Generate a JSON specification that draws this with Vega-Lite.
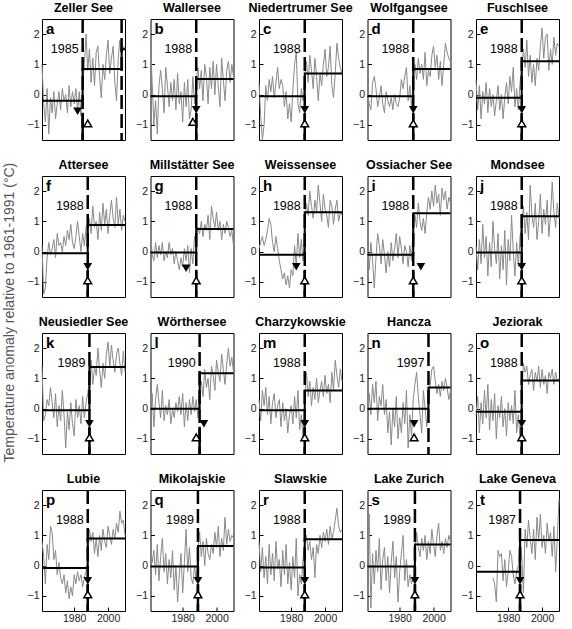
{
"$schema": "https://vega.github.io/schema/vega-lite/v6.json",
"background": "white",
"padding": {"left": 2, "top": 1, "right": 4, "bottom": 0},
"title": {"text": "Temperature anomaly relative to 1961-1991 (°C)", "orient": "left", "anchor": "middle", "fontSize": 14, "fontWeight": "normal", "font": "Liberation Sans", "color": "#555", "offset": 10},
"datasets": {
"lakes": [
{"id":"a","lake":"Zeller See"},{"id":"b","lake":"Wallersee"},{"id":"c","lake":"Niedertrumer See"},{"id":"d","lake":"Wolfgangsee"},{"id":"e","lake":"Fuschlsee"},
{"id":"f","lake":"Attersee"},{"id":"g","lake":"Millstätter See"},{"id":"h","lake":"Weissensee"},{"id":"i","lake":"Ossiacher See"},{"id":"j","lake":"Mondsee"},
{"id":"k","lake":"Neusiedler See"},{"id":"l","lake":"Wörthersee"},{"id":"m","lake":"Charzykowskie"},{"id":"n","lake":"Hancza"},{"id":"o","lake":"Jeziorak"},
{"id":"p","lake":"Lubie"},{"id":"q","lake":"Mikolajskie"},{"id":"r","lake":"Slawskie"},{"id":"s","lake":"Lake Zurich"},{"id":"t","lake":"Lake Geneva"}
],
"main": [
{"id":"a","kind":"let"},{"id":"b","kind":"let"},{"id":"c","kind":"let"},{"id":"d","kind":"let"},{"id":"e","kind":"let"},{"id":"f","kind":"let"},{"id":"g","kind":"let"},{"id":"h","kind":"let"},{"id":"i","kind":"let"},{"id":"j","kind":"let"},{"id":"k","kind":"let"},{"id":"l","kind":"let"},{"id":"m","kind":"let"},{"id":"n","kind":"let"},{"id":"o","kind":"let"},{"id":"p","kind":"let"},{"id":"q","kind":"let"},{"id":"r","kind":"let"},{"id":"s","kind":"let"},{"id":"t","kind":"let"},

{"id":"a","kind":"cp","year":1985,"label":"1985"},{"id":"a","kind":"cp","year":2008},
{"id":"b","kind":"cp","year":1988,"label":"1988"},{"id":"c","kind":"cp","year":1988,"label":"1988"},{"id":"d","kind":"cp","year":1988,"label":"1988"},{"id":"e","kind":"cp","year":1988,"label":"1988"},
{"id":"f","kind":"cp","year":1988,"label":"1988"},{"id":"g","kind":"cp","year":1988,"label":"1988"},{"id":"h","kind":"cp","year":1988,"label":"1988"},{"id":"i","kind":"cp","year":1988,"label":"1988"},{"id":"j","kind":"cp","year":1988,"label":"1988"},
{"id":"k","kind":"cp","year":1989,"label":"1989"},{"id":"l","kind":"cp","year":1990,"label":"1990"},{"id":"m","kind":"cp","year":1988,"label":"1988"},{"id":"n","kind":"cp","year":1997,"label":"1997"},{"id":"o","kind":"cp","year":1988,"label":"1988"},
{"id":"p","kind":"cp","year":1988,"label":"1988"},{"id":"q","kind":"cp","year":1989,"label":"1989"},{"id":"r","kind":"cp","year":1988,"label":"1988"},{"id":"s","kind":"cp","year":1989,"label":"1989"},{"id":"t","kind":"cp","year":1987,"label":"1987"},

{"id":"a","kind":"seg","year":1985,"value":-1.5,"value2":-0.6},{"id":"b","kind":"seg","year":1988,"value":-1.5,"value2":-0.6},{"id":"c","kind":"seg","year":1988,"value":-1.5,"value2":-0.6},{"id":"d","kind":"seg","year":1988,"value":-1.5,"value2":-0.6},{"id":"e","kind":"seg","year":1988,"value":-1.5,"value2":-0.6},
{"id":"f","kind":"seg","year":1988,"value":-1.5,"value2":-0.6},{"id":"g","kind":"seg","year":1988,"value":-1.5,"value2":-0.6},{"id":"h","kind":"seg","year":1988,"value":-1.5,"value2":-0.6},{"id":"i","kind":"seg","year":1988,"value":-1.5,"value2":-0.6},{"id":"j","kind":"seg","year":1988,"value":-1.5,"value2":-0.6},
{"id":"k","kind":"seg","year":1989,"value":-1.5,"value2":-0.6},{"id":"l","kind":"seg","year":1990,"value":-1.5,"value2":-0.6},{"id":"m","kind":"seg","year":1988,"value":-1.5,"value2":-0.6},{"id":"o","kind":"seg","year":1988,"value":-1.5,"value2":-0.6},
{"id":"p","kind":"seg","year":1988,"value":-1.5,"value2":-0.6},{"id":"q","kind":"seg","year":1989,"value":-1.5,"value2":-0.6},{"id":"r","kind":"seg","year":1988,"value":-1.5,"value2":-0.6},{"id":"s","kind":"seg","year":1989,"value":-1.5,"value2":-0.6},{"id":"t","kind":"seg","year":1987,"value":-1.5,"value2":-0.6},

{"id":"a","kind":"dn","year":1982,"value":-0.55},{"id":"a","kind":"up","year":1988,"value":-0.95},
{"id":"b","kind":"dn","year":1988,"value":-0.5},{"id":"b","kind":"up","year":1986,"value":-0.9},
{"id":"c","kind":"dn","year":1988,"value":-0.5},{"id":"c","kind":"up","year":1988,"value":-0.95},
{"id":"d","kind":"dn","year":1988,"value":-0.5},{"id":"d","kind":"up","year":1988,"value":-0.95},
{"id":"e","kind":"dn","year":1988,"value":-0.5},{"id":"e","kind":"up","year":1988,"value":-0.95},
{"id":"f","kind":"dn","year":1988,"value":-0.5},{"id":"f","kind":"up","year":1988,"value":-0.95},
{"id":"g","kind":"dn","year":1982,"value":-0.55},{"id":"g","kind":"up","year":1988,"value":-0.95},
{"id":"h","kind":"dn","year":1983,"value":-0.5},{"id":"h","kind":"up","year":1988,"value":-0.95},
{"id":"i","kind":"dn","year":1992.5,"value":-0.5},{"id":"i","kind":"up","year":1988,"value":-0.95},
{"id":"j","kind":"dn","year":1988,"value":-0.5},{"id":"j","kind":"up","year":1988,"value":-0.95},
{"id":"k","kind":"dn","year":1989,"value":-0.5},{"id":"k","kind":"up","year":1989,"value":-0.95},
{"id":"l","kind":"dn","year":1992.5,"value":-0.5},{"id":"l","kind":"up","year":1988,"value":-0.95},
{"id":"m","kind":"dn","year":1988,"value":-0.5},{"id":"m","kind":"up","year":1988,"value":-0.95},
{"id":"n","kind":"dn","year":1988.5,"value":-0.5},{"id":"n","kind":"up","year":1988.5,"value":-0.95},
{"id":"o","kind":"dn","year":1988,"value":-0.5},{"id":"o","kind":"up","year":1988,"value":-0.95},
{"id":"p","kind":"dn","year":1988,"value":-0.5},{"id":"p","kind":"up","year":1988,"value":-0.95},
{"id":"q","kind":"dn","year":1989,"value":-0.5},{"id":"q","kind":"up","year":1989,"value":-0.95},
{"id":"r","kind":"dn","year":1988,"value":-0.5},{"id":"r","kind":"up","year":1988,"value":-0.95},
{"id":"s","kind":"dn","year":1989,"value":-0.5},{"id":"s","kind":"up","year":1989,"value":-0.95},
{"id":"t","kind":"dn","year":1987,"value":-0.5},{"id":"t","kind":"up","year":1987,"value":-0.95},

{"id":"a","kind":"step","o":1,"year":1961,"value":-0.2},{"id":"a","kind":"step","o":2,"year":1985,"value":-0.2},{"id":"a","kind":"step","o":3,"year":1985,"value":0.85},{"id":"a","kind":"step","o":4,"year":2008,"value":0.85},{"id":"a","kind":"step","o":5,"year":2008,"value":1.5},{"id":"a","kind":"step","o":6,"year":2010,"value":1.5},
{"id":"b","kind":"step","o":1,"year":1961,"value":-0.05},{"id":"b","kind":"step","o":2,"year":1988,"value":-0.05},{"id":"b","kind":"step","o":3,"year":1988,"value":0.52},{"id":"b","kind":"step","o":4,"year":2010,"value":0.52},
{"id":"c","kind":"step","o":1,"year":1961,"value":-0.05},{"id":"c","kind":"step","o":2,"year":1988,"value":-0.05},{"id":"c","kind":"step","o":3,"year":1988,"value":0.7},{"id":"c","kind":"step","o":4,"year":2010,"value":0.7},
{"id":"d","kind":"step","o":1,"year":1961,"value":-0.05},{"id":"d","kind":"step","o":2,"year":1988,"value":-0.05},{"id":"d","kind":"step","o":3,"year":1988,"value":0.85},{"id":"d","kind":"step","o":4,"year":2010,"value":0.85},
{"id":"e","kind":"step","o":1,"year":1961,"value":-0.1},{"id":"e","kind":"step","o":2,"year":1988,"value":-0.1},{"id":"e","kind":"step","o":3,"year":1988,"value":1.1},{"id":"e","kind":"step","o":4,"year":2010,"value":1.1},
{"id":"f","kind":"step","o":1,"year":1961,"value":-0.05},{"id":"f","kind":"step","o":2,"year":1988,"value":-0.05},{"id":"f","kind":"step","o":3,"year":1988,"value":0.88},{"id":"f","kind":"step","o":4,"year":2010,"value":0.88},
{"id":"g","kind":"step","o":1,"year":1961,"value":-0.03},{"id":"g","kind":"step","o":2,"year":1988,"value":-0.03},{"id":"g","kind":"step","o":3,"year":1988,"value":0.75},{"id":"g","kind":"step","o":4,"year":2010,"value":0.75},
{"id":"h","kind":"step","o":1,"year":1961,"value":-0.1},{"id":"h","kind":"step","o":2,"year":1988,"value":-0.1},{"id":"h","kind":"step","o":3,"year":1988,"value":1.3},{"id":"h","kind":"step","o":4,"year":2010,"value":1.3},
{"id":"i","kind":"step","o":1,"year":1961,"value":-0.1},{"id":"i","kind":"step","o":2,"year":1988,"value":-0.1},{"id":"i","kind":"step","o":3,"year":1988,"value":1.27},{"id":"i","kind":"step","o":4,"year":2010,"value":1.27},
{"id":"j","kind":"step","o":1,"year":1961,"value":-0.03},{"id":"j","kind":"step","o":2,"year":1988,"value":-0.03},{"id":"j","kind":"step","o":3,"year":1988,"value":1.17},{"id":"j","kind":"step","o":4,"year":2010,"value":1.17},
{"id":"k","kind":"step","o":1,"year":1961,"value":-0.05},{"id":"k","kind":"step","o":2,"year":1989,"value":-0.05},{"id":"k","kind":"step","o":3,"year":1989,"value":1.38},{"id":"k","kind":"step","o":4,"year":2010,"value":1.38},
{"id":"l","kind":"step","o":1,"year":1961,"value":0.0},{"id":"l","kind":"step","o":2,"year":1990,"value":0.0},{"id":"l","kind":"step","o":3,"year":1990,"value":1.17},{"id":"l","kind":"step","o":4,"year":2010,"value":1.17},
{"id":"m","kind":"step","o":1,"year":1961,"value":-0.05},{"id":"m","kind":"step","o":2,"year":1988,"value":-0.05},{"id":"m","kind":"step","o":3,"year":1988,"value":0.6},{"id":"m","kind":"step","o":4,"year":2010,"value":0.6},
{"id":"n","kind":"step","o":1,"year":1961,"value":0.0},{"id":"n","kind":"step","o":2,"year":1997,"value":0.0},{"id":"n","kind":"step","o":3,"year":1997,"value":0.7},{"id":"n","kind":"step","o":4,"year":2010,"value":0.7},
{"id":"o","kind":"step","o":1,"year":1961,"value":-0.1},{"id":"o","kind":"step","o":2,"year":1988,"value":-0.1},{"id":"o","kind":"step","o":3,"year":1988,"value":0.93},{"id":"o","kind":"step","o":4,"year":2010,"value":0.93},
{"id":"p","kind":"step","o":1,"year":1961,"value":-0.08},{"id":"p","kind":"step","o":2,"year":1988,"value":-0.08},{"id":"p","kind":"step","o":3,"year":1988,"value":0.9},{"id":"p","kind":"step","o":4,"year":2010,"value":0.9},
{"id":"q","kind":"step","o":1,"year":1961,"value":-0.03},{"id":"q","kind":"step","o":2,"year":1989,"value":-0.03},{"id":"q","kind":"step","o":3,"year":1989,"value":0.65},{"id":"q","kind":"step","o":4,"year":2010,"value":0.65},
{"id":"r","kind":"step","o":1,"year":1961,"value":-0.06},{"id":"r","kind":"step","o":2,"year":1988,"value":-0.06},{"id":"r","kind":"step","o":3,"year":1988,"value":0.87},{"id":"r","kind":"step","o":4,"year":2010,"value":0.87},
{"id":"s","kind":"step","o":1,"year":1961,"value":-0.03},{"id":"s","kind":"step","o":2,"year":1989,"value":-0.03},{"id":"s","kind":"step","o":3,"year":1989,"value":0.7},{"id":"s","kind":"step","o":4,"year":2010,"value":0.7},
{"id":"t","kind":"step","o":1,"year":1961,"value":-0.2},{"id":"t","kind":"step","o":2,"year":1987,"value":-0.2},{"id":"t","kind":"step","o":3,"year":1987,"value":0.85},{"id":"t","kind":"step","o":4,"year":2010,"value":0.85},

{"id":"a","year":1961,"value":1.0},{"id":"a","year":1962,"value":-0.3},{"id":"a","year":1963,"value":-0.9},{"id":"a","year":1964,"value":0.2},{"id":"a","year":1965,"value":-1.3},{"id":"a","year":1966,"value":-0.1},{"id":"a","year":1967,"value":-0.6},{"id":"a","year":1968,"value":0.1},{"id":"a","year":1969,"value":-0.8},{"id":"a","year":1970,"value":-0.3},
{"id":"a","year":1971,"value":0.1},{"id":"a","year":1972,"value":-0.5},{"id":"a","year":1973,"value":0.2},{"id":"a","year":1974,"value":-0.2},{"id":"a","year":1975,"value":0.0},{"id":"a","year":1976,"value":-0.6},{"id":"a","year":1977,"value":0.3},{"id":"a","year":1978,"value":-0.4},{"id":"a","year":1979,"value":0.1},{"id":"a","year":1980,"value":-0.3},
{"id":"a","year":1981,"value":0.2},{"id":"a","year":1982,"value":-0.5},{"id":"a","year":1983,"value":0.1},{"id":"a","year":1984,"value":-0.7},{"id":"a","year":1985,"value":0.3},{"id":"a","year":1986,"value":1.0},{"id":"a","year":1987,"value":2.0},{"id":"a","year":1988,"value":0.8},{"id":"a","year":1989,"value":1.5},{"id":"a","year":1990,"value":0.4},
{"id":"a","year":1991,"value":1.2},{"id":"a","year":1992,"value":0.3},{"id":"a","year":1993,"value":1.4},{"id":"a","year":1994,"value":1.6},{"id":"a","year":1995,"value":0.6},{"id":"a","year":1996,"value":-0.1},{"id":"a","year":1997,"value":1.0},{"id":"a","year":1998,"value":0.5},{"id":"a","year":1999,"value":1.3},{"id":"a","year":2000,"value":1.8},
{"id":"a","year":2001,"value":0.7},{"id":"a","year":2002,"value":1.2},{"id":"a","year":2003,"value":1.6},{"id":"a","year":2004,"value":0.4},{"id":"a","year":2005,"value":-0.2},{"id":"a","year":2006,"value":1.2},{"id":"a","year":2007,"value":1.8},{"id":"a","year":2008,"value":1.3},{"id":"a","year":2009,"value":1.6},{"id":"a","year":2010,"value":1.5},

{"id":"b","year":1961,"value":1.6},{"id":"b","year":1962,"value":0.4},{"id":"b","year":1963,"value":-1.0},{"id":"b","year":1964,"value":-0.2},{"id":"b","year":1965,"value":-1.3},{"id":"b","year":1966,"value":0.3},{"id":"b","year":1967,"value":0.8},{"id":"b","year":1968,"value":0.2},{"id":"b","year":1969,"value":-0.6},{"id":"b","year":1970,"value":0.9},
{"id":"b","year":1971,"value":0.3},{"id":"b","year":1972,"value":-0.4},{"id":"b","year":1973,"value":0.4},{"id":"b","year":1974,"value":-0.2},{"id":"b","year":1975,"value":0.5},{"id":"b","year":1976,"value":-0.5},{"id":"b","year":1977,"value":0.7},{"id":"b","year":1978,"value":-0.3},{"id":"b","year":1979,"value":0.1},{"id":"b","year":1980,"value":-0.9},
{"id":"b","year":1981,"value":0.4},{"id":"b","year":1982,"value":-0.4},{"id":"b","year":1983,"value":0.5},{"id":"b","year":1984,"value":-0.8},{"id":"b","year":1985,"value":-0.5},{"id":"b","year":1986,"value":0.6},{"id":"b","year":1987,"value":-0.3},{"id":"b","year":1988,"value":0.4},{"id":"b","year":1989,"value":0.9},{"id":"b","year":1990,"value":0.2},
{"id":"b","year":1991,"value":0.8},{"id":"b","year":1992,"value":-0.2},{"id":"b","year":1993,"value":1.0},{"id":"b","year":1994,"value":0.6},{"id":"b","year":1995,"value":-0.3},{"id":"b","year":1996,"value":0.9},{"id":"b","year":1997,"value":0.2},{"id":"b","year":1998,"value":1.1},{"id":"b","year":1999,"value":0.0},{"id":"b","year":2000,"value":1.0},
{"id":"b","year":2001,"value":0.3},{"id":"b","year":2002,"value":-0.4},{"id":"b","year":2003,"value":1.2},{"id":"b","year":2004,"value":0.5},{"id":"b","year":2005,"value":-0.2},{"id":"b","year":2006,"value":0.8},{"id":"b","year":2007,"value":1.1},{"id":"b","year":2008,"value":0.4},{"id":"b","year":2009,"value":1.0},{"id":"b","year":2010,"value":0.6},

{"id":"c","year":1961,"value":0.4},{"id":"c","year":1962,"value":-0.7},{"id":"c","year":1963,"value":-1.5},{"id":"c","year":1964,"value":-1.0},{"id":"c","year":1965,"value":0.3},{"id":"c","year":1966,"value":-0.2},{"id":"c","year":1967,"value":0.5},{"id":"c","year":1968,"value":0.1},{"id":"c","year":1969,"value":0.6},{"id":"c","year":1970,"value":-0.1},
{"id":"c","year":1971,"value":0.4},{"id":"c","year":1972,"value":0.9},{"id":"c","year":1973,"value":0.2},{"id":"c","year":1974,"value":0.5},{"id":"c","year":1975,"value":0.3},{"id":"c","year":1976,"value":-0.4},{"id":"c","year":1977,"value":0.1},{"id":"c","year":1978,"value":-0.8},{"id":"c","year":1979,"value":-0.3},{"id":"c","year":1980,"value":-0.9},
{"id":"c","year":1981,"value":0.2},{"id":"c","year":1982,"value":1.0},{"id":"c","year":1983,"value":1.4},{"id":"c","year":1984,"value":-0.3},{"id":"c","year":1985,"value":-0.6},{"id":"c","year":1986,"value":0.2},{"id":"c","year":1987,"value":-0.2},{"id":"c","year":1988,"value":0.5},{"id":"c","year":1989,"value":1.1},{"id":"c","year":1990,"value":0.4},
{"id":"c","year":1991,"value":1.3},{"id":"c","year":1992,"value":0.8},{"id":"c","year":1993,"value":0.2},{"id":"c","year":1994,"value":1.2},{"id":"c","year":1995,"value":0.6},{"id":"c","year":1996,"value":-0.2},{"id":"c","year":1997,"value":0.7},{"id":"c","year":1998,"value":0.3},{"id":"c","year":1999,"value":1.0},{"id":"c","year":2000,"value":1.5},
{"id":"c","year":2001,"value":0.6},{"id":"c","year":2002,"value":0.9},{"id":"c","year":2003,"value":1.6},{"id":"c","year":2004,"value":0.3},{"id":"c","year":2005,"value":-0.1},{"id":"c","year":2006,"value":0.7},{"id":"c","year":2007,"value":1.7},{"id":"c","year":2008,"value":1.2},{"id":"c","year":2009,"value":0.9},{"id":"c","year":2010,"value":0.7},

{"id":"d","year":1961,"value":0.1},{"id":"d","year":1962,"value":-0.3},{"id":"d","year":1963,"value":-0.5},{"id":"d","year":1964,"value":0.4},{"id":"d","year":1965,"value":0.6},{"id":"d","year":1966,"value":0.2},{"id":"d","year":1967,"value":-0.4},{"id":"d","year":1968,"value":-0.1},{"id":"d","year":1969,"value":0.3},{"id":"d","year":1970,"value":-0.3},
{"id":"d","year":1971,"value":-0.6},{"id":"d","year":1972,"value":0.1},{"id":"d","year":1973,"value":-0.2},{"id":"d","year":1974,"value":-0.4},{"id":"d","year":1975,"value":-0.1},{"id":"d","year":1976,"value":-0.5},{"id":"d","year":1977,"value":0.0},{"id":"d","year":1978,"value":-0.3},{"id":"d","year":1979,"value":-0.4},{"id":"d","year":1980,"value":-0.1},
{"id":"d","year":1981,"value":0.5},{"id":"d","year":1982,"value":0.2},{"id":"d","year":1983,"value":0.6},{"id":"d","year":1984,"value":0.9},{"id":"d","year":1985,"value":-0.2},{"id":"d","year":1986,"value":0.3},{"id":"d","year":1987,"value":-0.4},{"id":"d","year":1988,"value":0.4},{"id":"d","year":1989,"value":1.0},{"id":"d","year":1990,"value":0.5},
{"id":"d","year":1991,"value":1.2},{"id":"d","year":1992,"value":0.7},{"id":"d","year":1993,"value":1.0},{"id":"d","year":1994,"value":0.5},{"id":"d","year":1995,"value":1.4},{"id":"d","year":1996,"value":0.3},{"id":"d","year":1997,"value":0.8},{"id":"d","year":1998,"value":0.6},{"id":"d","year":1999,"value":1.3},{"id":"d","year":2000,"value":1.6},
{"id":"d","year":2001,"value":0.9},{"id":"d","year":2002,"value":1.3},{"id":"d","year":2003,"value":0.5},{"id":"d","year":2004,"value":1.1},{"id":"d","year":2005,"value":0.3},{"id":"d","year":2006,"value":1.0},{"id":"d","year":2007,"value":1.7},{"id":"d","year":2008,"value":1.4},{"id":"d","year":2009,"value":1.2},{"id":"d","year":2010,"value":1.1},

{"id":"e","year":1961,"value":0.5},{"id":"e","year":1962,"value":-0.5},{"id":"e","year":1963,"value":0.3},{"id":"e","year":1964,"value":-0.8},{"id":"e","year":1965,"value":0.1},{"id":"e","year":1966,"value":-0.3},{"id":"e","year":1967,"value":0.4},{"id":"e","year":1968,"value":-0.6},{"id":"e","year":1969,"value":0.2},{"id":"e","year":1970,"value":-0.4},
{"id":"e","year":1971,"value":0.0},{"id":"e","year":1972,"value":-0.7},{"id":"e","year":1973,"value":-0.2},{"id":"e","year":1974,"value":0.3},{"id":"e","year":1975,"value":-0.5},{"id":"e","year":1976,"value":0.0},{"id":"e","year":1977,"value":-0.8},{"id":"e","year":1978,"value":-0.1},{"id":"e","year":1979,"value":0.4},{"id":"e","year":1980,"value":-0.3},
{"id":"e","year":1981,"value":0.6},{"id":"e","year":1982,"value":0.1},{"id":"e","year":1983,"value":0.9},{"id":"e","year":1984,"value":-0.4},{"id":"e","year":1985,"value":0.2},{"id":"e","year":1986,"value":-0.5},{"id":"e","year":1987,"value":0.4},{"id":"e","year":1988,"value":0.8},{"id":"e","year":1989,"value":1.5},{"id":"e","year":1990,"value":0.9},
{"id":"e","year":1991,"value":1.8},{"id":"e","year":1992,"value":0.6},{"id":"e","year":1993,"value":1.3},{"id":"e","year":1994,"value":0.4},{"id":"e","year":1995,"value":1.0},{"id":"e","year":1996,"value":0.3},{"id":"e","year":1997,"value":1.2},{"id":"e","year":1998,"value":0.8},{"id":"e","year":1999,"value":1.6},{"id":"e","year":2000,"value":2.2},
{"id":"e","year":2001,"value":1.2},{"id":"e","year":2002,"value":1.9},{"id":"e","year":2003,"value":2.0},{"id":"e","year":2004,"value":0.8},{"id":"e","year":2005,"value":1.5},{"id":"e","year":2006,"value":1.0},{"id":"e","year":2007,"value":1.9},{"id":"e","year":2008,"value":1.3},{"id":"e","year":2009,"value":1.7},{"id":"e","year":2010,"value":1.6},

{"id":"f","year":1961,"value":0.2},{"id":"f","year":1962,"value":-1.4},{"id":"f","year":1963,"value":-1.2},{"id":"f","year":1964,"value":-0.2},{"id":"f","year":1965,"value":0.3},{"id":"f","year":1966,"value":-0.1},{"id":"f","year":1967,"value":0.1},{"id":"f","year":1968,"value":0.4},{"id":"f","year":1969,"value":-0.2},{"id":"f","year":1970,"value":0.6},
{"id":"f","year":1971,"value":0.2},{"id":"f","year":1972,"value":0.3},{"id":"f","year":1973,"value":0.0},{"id":"f","year":1974,"value":0.5},{"id":"f","year":1975,"value":0.2},{"id":"f","year":1976,"value":0.7},{"id":"f","year":1977,"value":0.4},{"id":"f","year":1978,"value":0.9},{"id":"f","year":1979,"value":0.3},{"id":"f","year":1980,"value":0.1},
{"id":"f","year":1981,"value":0.5},{"id":"f","year":1982,"value":1.0},{"id":"f","year":1983,"value":0.5},{"id":"f","year":1984,"value":0.0},{"id":"f","year":1985,"value":0.6},{"id":"f","year":1986,"value":0.2},{"id":"f","year":1987,"value":0.8},{"id":"f","year":1988,"value":0.5},{"id":"f","year":1989,"value":1.1},{"id":"f","year":1990,"value":0.6},
{"id":"f","year":1991,"value":1.5},{"id":"f","year":1992,"value":0.8},{"id":"f","year":1993,"value":1.0},{"id":"f","year":1994,"value":0.4},{"id":"f","year":1995,"value":1.3},{"id":"f","year":1996,"value":0.7},{"id":"f","year":1997,"value":1.6},{"id":"f","year":1998,"value":0.9},{"id":"f","year":1999,"value":1.4},{"id":"f","year":2000,"value":0.6},
{"id":"f","year":2001,"value":1.2},{"id":"f","year":2002,"value":1.7},{"id":"f","year":2003,"value":1.1},{"id":"f","year":2004,"value":0.8},{"id":"f","year":2005,"value":1.8},{"id":"f","year":2006,"value":0.9},{"id":"f","year":2007,"value":1.4},{"id":"f","year":2008,"value":0.7},{"id":"f","year":2009,"value":1.2},{"id":"f","year":2010,"value":1.0},

{"id":"g","year":1961,"value":0.7},{"id":"g","year":1962,"value":-0.1},{"id":"g","year":1963,"value":-0.3},{"id":"g","year":1964,"value":0.3},{"id":"g","year":1965,"value":-0.2},{"id":"g","year":1966,"value":0.2},{"id":"g","year":1967,"value":-0.1},{"id":"g","year":1968,"value":0.3},{"id":"g","year":1969,"value":-0.3},{"id":"g","year":1970,"value":0.0},
{"id":"g","year":1971,"value":-0.2},{"id":"g","year":1972,"value":0.3},{"id":"g","year":1973,"value":-0.1},{"id":"g","year":1974,"value":0.1},{"id":"g","year":1975,"value":-0.4},{"id":"g","year":1976,"value":0.0},{"id":"g","year":1977,"value":-0.3},{"id":"g","year":1978,"value":-0.6},{"id":"g","year":1979,"value":-0.2},{"id":"g","year":1980,"value":-0.5},
{"id":"g","year":1981,"value":0.1},{"id":"g","year":1982,"value":-0.3},{"id":"g","year":1983,"value":0.2},{"id":"g","year":1984,"value":-0.7},{"id":"g","year":1985,"value":0.1},{"id":"g","year":1986,"value":-0.4},{"id":"g","year":1987,"value":0.5},{"id":"g","year":1988,"value":0.4},{"id":"g","year":1989,"value":0.8},{"id":"g","year":1990,"value":0.6},
{"id":"g","year":1991,"value":1.0},{"id":"g","year":1992,"value":0.5},{"id":"g","year":1993,"value":0.9},{"id":"g","year":1994,"value":0.7},{"id":"g","year":1995,"value":1.2},{"id":"g","year":1996,"value":0.4},{"id":"g","year":1997,"value":1.5},{"id":"g","year":1998,"value":1.1},{"id":"g","year":1999,"value":0.8},{"id":"g","year":2000,"value":1.3},
{"id":"g","year":2001,"value":0.7},{"id":"g","year":2002,"value":1.0},{"id":"g","year":2003,"value":0.4},{"id":"g","year":2004,"value":0.9},{"id":"g","year":2005,"value":0.6},{"id":"g","year":2006,"value":1.0},{"id":"g","year":2007,"value":0.8},{"id":"g","year":2008,"value":0.5},{"id":"g","year":2009,"value":0.7},{"id":"g","year":2010,"value":0.2},

{"id":"h","year":1961,"value":0.1},{"id":"h","year":1962,"value":0.3},{"id":"h","year":1963,"value":0.5},{"id":"h","year":1964,"value":0.2},{"id":"h","year":1965,"value":0.4},{"id":"h","year":1966,"value":0.7},{"id":"h","year":1967,"value":1.1},{"id":"h","year":1968,"value":0.9},{"id":"h","year":1969,"value":0.3},{"id":"h","year":1970,"value":0.0},
{"id":"h","year":1971,"value":0.5},{"id":"h","year":1972,"value":0.1},{"id":"h","year":1973,"value":-0.3},{"id":"h","year":1974,"value":-0.6},{"id":"h","year":1975,"value":-0.9},{"id":"h","year":1976,"value":-0.7},{"id":"h","year":1977,"value":-1.1},{"id":"h","year":1978,"value":-0.8},{"id":"h","year":1979,"value":-1.2},{"id":"h","year":1980,"value":-0.6},
{"id":"h","year":1981,"value":-0.8},{"id":"h","year":1982,"value":0.2},{"id":"h","year":1983,"value":-0.5},{"id":"h","year":1984,"value":0.6},{"id":"h","year":1985,"value":-0.2},{"id":"h","year":1986,"value":0.4},{"id":"h","year":1987,"value":-0.3},{"id":"h","year":1988,"value":0.8},{"id":"h","year":1989,"value":1.6},{"id":"h","year":1990,"value":1.2},
{"id":"h","year":1991,"value":2.0},{"id":"h","year":1992,"value":1.5},{"id":"h","year":1993,"value":1.1},{"id":"h","year":1994,"value":1.7},{"id":"h","year":1995,"value":1.3},{"id":"h","year":1996,"value":2.2},{"id":"h","year":1997,"value":1.6},{"id":"h","year":1998,"value":1.0},{"id":"h","year":1999,"value":1.9},{"id":"h","year":2000,"value":1.4},
{"id":"h","year":2001,"value":1.2},{"id":"h","year":2002,"value":0.8},{"id":"h","year":2003,"value":1.7},{"id":"h","year":2004,"value":1.5},{"id":"h","year":2005,"value":0.9},{"id":"h","year":2006,"value":1.4},{"id":"h","year":2007,"value":1.7},{"id":"h","year":2008,"value":1.0},{"id":"h","year":2009,"value":1.3},{"id":"h","year":2010,"value":1.2},

{"id":"i","year":1961,"value":-0.1},{"id":"i","year":1962,"value":-0.6},{"id":"i","year":1963,"value":0.3},{"id":"i","year":1964,"value":-0.3},{"id":"i","year":1965,"value":-1.2},{"id":"i","year":1966,"value":-0.2},{"id":"i","year":1967,"value":0.6},{"id":"i","year":1968,"value":0.2},{"id":"i","year":1969,"value":-0.4},{"id":"i","year":1970,"value":0.4},
{"id":"i","year":1971,"value":-0.1},{"id":"i","year":1972,"value":-0.7},{"id":"i","year":1973,"value":0.0},{"id":"i","year":1974,"value":-0.5},{"id":"i","year":1975,"value":0.3},{"id":"i","year":1976,"value":-0.3},{"id":"i","year":1977,"value":0.1},{"id":"i","year":1978,"value":0.6},{"id":"i","year":1979,"value":-0.2},{"id":"i","year":1980,"value":0.5},
{"id":"i","year":1981,"value":0.1},{"id":"i","year":1982,"value":-0.4},{"id":"i","year":1983,"value":0.2},{"id":"i","year":1984,"value":0.0},{"id":"i","year":1985,"value":-0.5},{"id":"i","year":1986,"value":0.2},{"id":"i","year":1987,"value":-0.3},{"id":"i","year":1988,"value":0.9},{"id":"i","year":1989,"value":1.2},{"id":"i","year":1990,"value":0.8},
{"id":"i","year":1991,"value":1.6},{"id":"i","year":1992,"value":1.0},{"id":"i","year":1993,"value":0.7},{"id":"i","year":1994,"value":1.1},{"id":"i","year":1995,"value":0.6},{"id":"i","year":1996,"value":1.3},{"id":"i","year":1997,"value":1.8},{"id":"i","year":1998,"value":1.4},{"id":"i","year":1999,"value":2.0},{"id":"i","year":2000,"value":1.5},
{"id":"i","year":2001,"value":2.2},{"id":"i","year":2002,"value":1.6},{"id":"i","year":2003,"value":1.9},{"id":"i","year":2004,"value":1.2},{"id":"i","year":2005,"value":2.1},{"id":"i","year":2006,"value":1.7},{"id":"i","year":2007,"value":2.0},{"id":"i","year":2008,"value":1.4},{"id":"i","year":2009,"value":1.8},{"id":"i","year":2010,"value":1.6},

{"id":"j","year":1961,"value":0.2},{"id":"j","year":1962,"value":-0.6},{"id":"j","year":1963,"value":0.4},{"id":"j","year":1964,"value":-0.4},{"id":"j","year":1965,"value":0.9},{"id":"j","year":1966,"value":-0.2},{"id":"j","year":1967,"value":0.5},{"id":"j","year":1968,"value":-0.8},{"id":"j","year":1969,"value":0.3},{"id":"j","year":1970,"value":-0.5},
{"id":"j","year":1971,"value":1.0},{"id":"j","year":1972,"value":0.1},{"id":"j","year":1973,"value":-0.4},{"id":"j","year":1974,"value":0.6},{"id":"j","year":1975,"value":-0.9},{"id":"j","year":1976,"value":0.2},{"id":"j","year":1977,"value":-0.6},{"id":"j","year":1978,"value":0.7},{"id":"j","year":1979,"value":-1.1},{"id":"j","year":1980,"value":0.4},
{"id":"j","year":1981,"value":-0.3},{"id":"j","year":1982,"value":1.2},{"id":"j","year":1983,"value":0.0},{"id":"j","year":1984,"value":-0.8},{"id":"j","year":1985,"value":0.3},{"id":"j","year":1986,"value":-0.5},{"id":"j","year":1987,"value":0.5},{"id":"j","year":1988,"value":0.9},{"id":"j","year":1989,"value":1.5},{"id":"j","year":1990,"value":0.6},
{"id":"j","year":1991,"value":1.3},{"id":"j","year":1992,"value":0.4},{"id":"j","year":1993,"value":2.2},{"id":"j","year":1994,"value":1.2},{"id":"j","year":1995,"value":0.8},{"id":"j","year":1996,"value":1.6},{"id":"j","year":1997,"value":0.4},{"id":"j","year":1998,"value":1.0},{"id":"j","year":1999,"value":1.9},{"id":"j","year":2000,"value":0.6},
{"id":"j","year":2001,"value":1.4},{"id":"j","year":2002,"value":0.9},{"id":"j","year":2003,"value":1.7},{"id":"j","year":2004,"value":0.5},{"id":"j","year":2005,"value":1.2},{"id":"j","year":2006,"value":2.3},{"id":"j","year":2007,"value":1.3},{"id":"j","year":2008,"value":0.8},{"id":"j","year":2009,"value":1.6},{"id":"j","year":2010,"value":1.1},

{"id":"k","year":1961,"value":1.4},{"id":"k","year":1962,"value":-0.4},{"id":"k","year":1963,"value":-0.2},{"id":"k","year":1964,"value":0.3},{"id":"k","year":1965,"value":0.1},{"id":"k","year":1966,"value":0.7},{"id":"k","year":1967,"value":0.2},{"id":"k","year":1968,"value":-0.3},{"id":"k","year":1969,"value":0.5},{"id":"k","year":1970,"value":-0.6},
{"id":"k","year":1971,"value":0.1},{"id":"k","year":1972,"value":-0.4},{"id":"k","year":1973,"value":0.6},{"id":"k","year":1974,"value":-0.2},{"id":"k","year":1975,"value":-1.3},{"id":"k","year":1976,"value":-0.1},{"id":"k","year":1977,"value":-0.7},{"id":"k","year":1978,"value":0.2},{"id":"k","year":1979,"value":-0.5},{"id":"k","year":1980,"value":-0.9},
{"id":"k","year":1981,"value":0.3},{"id":"k","year":1982,"value":-0.3},{"id":"k","year":1983,"value":0.1},{"id":"k","year":1984,"value":-0.5},{"id":"k","year":1985,"value":0.4},{"id":"k","year":1986,"value":-0.3},{"id":"k","year":1987,"value":0.2},{"id":"k","year":1988,"value":0.5},{"id":"k","year":1989,"value":0.9},{"id":"k","year":1990,"value":1.6},
{"id":"k","year":1991,"value":0.8},{"id":"k","year":1992,"value":1.4},{"id":"k","year":1993,"value":1.1},{"id":"k","year":1994,"value":2.0},{"id":"k","year":1995,"value":1.3},{"id":"k","year":1996,"value":0.7},{"id":"k","year":1997,"value":1.5},{"id":"k","year":1998,"value":1.0},{"id":"k","year":1999,"value":1.8},{"id":"k","year":2000,"value":2.2},
{"id":"k","year":2001,"value":1.4},{"id":"k","year":2002,"value":2.1},{"id":"k","year":2003,"value":1.6},{"id":"k","year":2004,"value":1.2},{"id":"k","year":2005,"value":1.8},{"id":"k","year":2006,"value":2.0},{"id":"k","year":2007,"value":1.5},{"id":"k","year":2008,"value":1.1},{"id":"k","year":2009,"value":1.9},{"id":"k","year":2010,"value":1.2},

{"id":"l","year":1961,"value":0.1},{"id":"l","year":1962,"value":0.5},{"id":"l","year":1963,"value":-0.6},{"id":"l","year":1964,"value":0.3},{"id":"l","year":1965,"value":0.8},{"id":"l","year":1966,"value":0.2},{"id":"l","year":1967,"value":-0.3},{"id":"l","year":1968,"value":0.6},{"id":"l","year":1969,"value":-0.4},{"id":"l","year":1970,"value":0.1},
{"id":"l","year":1971,"value":-0.2},{"id":"l","year":1972,"value":0.3},{"id":"l","year":1973,"value":-0.5},{"id":"l","year":1974,"value":0.0},{"id":"l","year":1975,"value":-0.3},{"id":"l","year":1976,"value":0.2},{"id":"l","year":1977,"value":-0.1},{"id":"l","year":1978,"value":0.4},{"id":"l","year":1979,"value":-0.2},{"id":"l","year":1980,"value":0.5},
{"id":"l","year":1981,"value":-0.6},{"id":"l","year":1982,"value":0.2},{"id":"l","year":1983,"value":-0.4},{"id":"l","year":1984,"value":0.3},{"id":"l","year":1985,"value":-0.2},{"id":"l","year":1986,"value":0.4},{"id":"l","year":1987,"value":-0.1},{"id":"l","year":1988,"value":0.3},{"id":"l","year":1989,"value":-0.3},{"id":"l","year":1990,"value":0.5},
{"id":"l","year":1991,"value":0.9},{"id":"l","year":1992,"value":0.4},{"id":"l","year":1993,"value":1.3},{"id":"l","year":1994,"value":0.7},{"id":"l","year":1995,"value":1.0},{"id":"l","year":1996,"value":0.3},{"id":"l","year":1997,"value":1.4},{"id":"l","year":1998,"value":1.1},{"id":"l","year":1999,"value":0.6},{"id":"l","year":2000,"value":1.6},
{"id":"l","year":2001,"value":1.2},{"id":"l","year":2002,"value":0.9},{"id":"l","year":2003,"value":1.8},{"id":"l","year":2004,"value":1.3},{"id":"l","year":2005,"value":0.8},{"id":"l","year":2006,"value":1.5},{"id":"l","year":2007,"value":2.0},{"id":"l","year":2008,"value":1.4},{"id":"l","year":2009,"value":1.7},{"id":"l","year":2010,"value":1.2},

{"id":"m","year":1961,"value":0.3},{"id":"m","year":1962,"value":-0.4},{"id":"m","year":1963,"value":0.6},{"id":"m","year":1964,"value":0.1},{"id":"m","year":1965,"value":0.7},{"id":"m","year":1966,"value":-0.2},{"id":"m","year":1967,"value":0.4},{"id":"m","year":1968,"value":-0.5},{"id":"m","year":1969,"value":0.2},{"id":"m","year":1970,"value":0.5},
{"id":"m","year":1971,"value":-0.3},{"id":"m","year":1972,"value":0.1},{"id":"m","year":1973,"value":0.3},{"id":"m","year":1974,"value":-0.6},{"id":"m","year":1975,"value":0.2},{"id":"m","year":1976,"value":-0.4},{"id":"m","year":1977,"value":0.0},{"id":"m","year":1978,"value":-0.8},{"id":"m","year":1979,"value":-0.2},{"id":"m","year":1980,"value":0.1},
{"id":"m","year":1981,"value":-0.5},{"id":"m","year":1982,"value":0.4},{"id":"m","year":1983,"value":-0.3},{"id":"m","year":1984,"value":0.6},{"id":"m","year":1985,"value":-0.7},{"id":"m","year":1986,"value":-0.2},{"id":"m","year":1987,"value":-1.0},{"id":"m","year":1988,"value":0.2},{"id":"m","year":1989,"value":1.2},{"id":"m","year":1990,"value":0.4},
{"id":"m","year":1991,"value":0.9},{"id":"m","year":1992,"value":0.1},{"id":"m","year":1993,"value":0.7},{"id":"m","year":1994,"value":0.3},{"id":"m","year":1995,"value":1.0},{"id":"m","year":1996,"value":0.2},{"id":"m","year":1997,"value":0.6},{"id":"m","year":1998,"value":0.9},{"id":"m","year":1999,"value":0.4},{"id":"m","year":2000,"value":1.1},
{"id":"m","year":2001,"value":0.5},{"id":"m","year":2002,"value":0.8},{"id":"m","year":2003,"value":0.2},{"id":"m","year":2004,"value":1.2},{"id":"m","year":2005,"value":0.6},{"id":"m","year":2006,"value":1.6},{"id":"m","year":2007,"value":1.1},{"id":"m","year":2008,"value":0.7},{"id":"m","year":2009,"value":1.3},{"id":"m","year":2010,"value":0.9},

{"id":"n","year":1961,"value":-0.3},{"id":"n","year":1962,"value":0.5},{"id":"n","year":1963,"value":-0.2},{"id":"n","year":1964,"value":0.8},{"id":"n","year":1965,"value":0.2},{"id":"n","year":1966,"value":0.9},{"id":"n","year":1967,"value":-0.4},{"id":"n","year":1968,"value":0.4},{"id":"n","year":1969,"value":0.1},{"id":"n","year":1970,"value":0.8},
{"id":"n","year":1971,"value":-0.2},{"id":"n","year":1972,"value":0.3},{"id":"n","year":1973,"value":-0.8},{"id":"n","year":1974,"value":-0.1},{"id":"n","year":1975,"value":-1.2},{"id":"n","year":1976,"value":0.0},{"id":"n","year":1977,"value":-0.6},{"id":"n","year":1978,"value":0.4},{"id":"n","year":1979,"value":-1.0},{"id":"n","year":1980,"value":-0.3},
{"id":"n","year":1981,"value":-0.8},{"id":"n","year":1982,"value":0.2},{"id":"n","year":1983,"value":-0.5},{"id":"n","year":1984,"value":0.6},{"id":"n","year":1985,"value":-1.3},{"id":"n","year":1986,"value":-0.2},{"id":"n","year":1987,"value":-0.9},{"id":"n","year":1988,"value":0.3},{"id":"n","year":1989,"value":0.8},{"id":"n","year":1990,"value":1.2},
{"id":"n","year":1991,"value":0.4},{"id":"n","year":1992,"value":-0.2},{"id":"n","year":1993,"value":-0.8},{"id":"n","year":1994,"value":0.6},{"id":"n","year":1995,"value":0.0},{"id":"n","year":1996,"value":-0.6},{"id":"n","year":1997,"value":0.2},{"id":"n","year":1998,"value":0.8},{"id":"n","year":1999,"value":1.3},{"id":"n","year":2000,"value":1.4},
{"id":"n","year":2001,"value":0.9},{"id":"n","year":2002,"value":0.5},{"id":"n","year":2003,"value":0.8},{"id":"n","year":2004,"value":0.4},{"id":"n","year":2005,"value":0.9},{"id":"n","year":2006,"value":0.6},{"id":"n","year":2007,"value":1.0},{"id":"n","year":2008,"value":0.7},{"id":"n","year":2009,"value":0.3},{"id":"n","year":2010,"value":0.6},

{"id":"o","year":1961,"value":-0.2},{"id":"o","year":1962,"value":0.4},{"id":"o","year":1963,"value":-0.8},{"id":"o","year":1964,"value":0.2},{"id":"o","year":1965,"value":-0.5},{"id":"o","year":1966,"value":0.6},{"id":"o","year":1967,"value":-0.3},{"id":"o","year":1968,"value":0.8},{"id":"o","year":1969,"value":-0.7},{"id":"o","year":1970,"value":0.3},
{"id":"o","year":1971,"value":-0.4},{"id":"o","year":1972,"value":0.5},{"id":"o","year":1973,"value":-1.0},{"id":"o","year":1974,"value":0.1},{"id":"o","year":1975,"value":-0.3},{"id":"o","year":1976,"value":0.4},{"id":"o","year":1977,"value":-0.6},{"id":"o","year":1978,"value":0.0},{"id":"o","year":1979,"value":-0.9},{"id":"o","year":1980,"value":0.2},
{"id":"o","year":1981,"value":-0.4},{"id":"o","year":1982,"value":0.1},{"id":"o","year":1983,"value":-0.5},{"id":"o","year":1984,"value":0.6},{"id":"o","year":1985,"value":-0.8},{"id":"o","year":1986,"value":-0.2},{"id":"o","year":1987,"value":-1.0},{"id":"o","year":1988,"value":0.4},{"id":"o","year":1989,"value":1.5},{"id":"o","year":1990,"value":1.2},
{"id":"o","year":1991,"value":1.4},{"id":"o","year":1992,"value":0.8},{"id":"o","year":1993,"value":1.1},{"id":"o","year":1994,"value":1.3},{"id":"o","year":1995,"value":0.6},{"id":"o","year":1996,"value":1.2},{"id":"o","year":1997,"value":0.9},{"id":"o","year":1998,"value":1.4},{"id":"o","year":1999,"value":0.7},{"id":"o","year":2000,"value":1.3},
{"id":"o","year":2001,"value":0.8},{"id":"o","year":2002,"value":1.1},{"id":"o","year":2003,"value":0.5},{"id":"o","year":2004,"value":1.2},{"id":"o","year":2005,"value":1.0},{"id":"o","year":2006,"value":1.3},{"id":"o","year":2007,"value":0.8},{"id":"o","year":2008,"value":1.2},{"id":"o","year":2009,"value":0.9},{"id":"o","year":2010,"value":1.0},

{"id":"p","year":1961,"value":0.8},{"id":"p","year":1962,"value":0.3},{"id":"p","year":1963,"value":-0.6},{"id":"p","year":1964,"value":0.7},{"id":"p","year":1965,"value":0.2},{"id":"p","year":1966,"value":1.3},{"id":"p","year":1967,"value":1.1},{"id":"p","year":1968,"value":0.2},{"id":"p","year":1969,"value":0.5},{"id":"p","year":1970,"value":-0.3},
{"id":"p","year":1971,"value":0.1},{"id":"p","year":1972,"value":-0.4},{"id":"p","year":1973,"value":-0.6},{"id":"p","year":1974,"value":-0.3},{"id":"p","year":1975,"value":-0.9},{"id":"p","year":1976,"value":-0.5},{"id":"p","year":1977,"value":-1.1},{"id":"p","year":1978,"value":-0.7},{"id":"p","year":1979,"value":-1.0},{"id":"p","year":1980,"value":-0.3},
{"id":"p","year":1981,"value":-0.6},{"id":"p","year":1982,"value":-0.2},{"id":"p","year":1983,"value":-0.5},{"id":"p","year":1984,"value":-0.3},{"id":"p","year":1985,"value":-0.7},{"id":"p","year":1986,"value":-0.4},{"id":"p","year":1987,"value":-0.2},{"id":"p","year":1988,"value":0.2},{"id":"p","year":1989,"value":1.2},{"id":"p","year":1990,"value":0.8},
{"id":"p","year":1991,"value":1.1},{"id":"p","year":1992,"value":0.4},{"id":"p","year":1993,"value":0.9},{"id":"p","year":1994,"value":0.3},{"id":"p","year":1995,"value":1.0},{"id":"p","year":1996,"value":0.5},{"id":"p","year":1997,"value":1.2},{"id":"p","year":1998,"value":0.8},{"id":"p","year":1999,"value":0.6},{"id":"p","year":2000,"value":1.3},
{"id":"p","year":2001,"value":1.0},{"id":"p","year":2002,"value":0.7},{"id":"p","year":2003,"value":1.2},{"id":"p","year":2004,"value":0.9},{"id":"p","year":2005,"value":1.4},{"id":"p","year":2006,"value":1.1},{"id":"p","year":2007,"value":1.8},{"id":"p","year":2008,"value":1.4},{"id":"p","year":2009,"value":1.5},{"id":"p","year":2010,"value":1.0},

{"id":"q","year":1961,"value":0.8},{"id":"q","year":1962,"value":0.1},{"id":"q","year":1963,"value":0.5},{"id":"q","year":1964,"value":-0.3},{"id":"q","year":1965,"value":0.7},{"id":"q","year":1966,"value":-0.5},{"id":"q","year":1967,"value":0.3},{"id":"q","year":1968,"value":0.9},{"id":"q","year":1969,"value":-0.2},{"id":"q","year":1970,"value":0.4},
{"id":"q","year":1971,"value":-0.6},{"id":"q","year":1972,"value":0.2},{"id":"q","year":1973,"value":-0.4},{"id":"q","year":1974,"value":0.5},{"id":"q","year":1975,"value":-0.8},{"id":"q","year":1976,"value":0.0},{"id":"q","year":1977,"value":-1.2},{"id":"q","year":1978,"value":-0.3},{"id":"q","year":1979,"value":0.4},{"id":"q","year":1980,"value":-0.9},
{"id":"q","year":1981,"value":0.1},{"id":"q","year":1982,"value":1.2},{"id":"q","year":1983,"value":-0.2},{"id":"q","year":1984,"value":0.6},{"id":"q","year":1985,"value":-0.4},{"id":"q","year":1986,"value":-0.6},{"id":"q","year":1987,"value":0.0},{"id":"q","year":1988,"value":-0.5},{"id":"q","year":1989,"value":0.5},{"id":"q","year":1990,"value":1.1},
{"id":"q","year":1991,"value":0.3},{"id":"q","year":1992,"value":0.8},{"id":"q","year":1993,"value":0.0},{"id":"q","year":1994,"value":0.9},{"id":"q","year":1995,"value":0.4},{"id":"q","year":1996,"value":0.2},{"id":"q","year":1997,"value":0.7},{"id":"q","year":1998,"value":0.4},{"id":"q","year":1999,"value":1.1},{"id":"q","year":2000,"value":0.6},
{"id":"q","year":2001,"value":1.3},{"id":"q","year":2002,"value":0.3},{"id":"q","year":2003,"value":0.9},{"id":"q","year":2004,"value":0.5},{"id":"q","year":2005,"value":1.6},{"id":"q","year":2006,"value":0.7},{"id":"q","year":2007,"value":1.2},{"id":"q","year":2008,"value":0.8},{"id":"q","year":2009,"value":1.0},{"id":"q","year":2010,"value":0.9},

{"id":"r","year":1961,"value":0.8},{"id":"r","year":1962,"value":-0.2},{"id":"r","year":1963,"value":0.6},{"id":"r","year":1964,"value":-0.4},{"id":"r","year":1965,"value":0.3},{"id":"r","year":1966,"value":-0.6},{"id":"r","year":1967,"value":0.7},{"id":"r","year":1968,"value":-0.3},{"id":"r","year":1969,"value":0.4},{"id":"r","year":1970,"value":-0.5},
{"id":"r","year":1971,"value":0.8},{"id":"r","year":1972,"value":-0.1},{"id":"r","year":1973,"value":0.2},{"id":"r","year":1974,"value":-0.7},{"id":"r","year":1975,"value":0.5},{"id":"r","year":1976,"value":-0.3},{"id":"r","year":1977,"value":0.7},{"id":"r","year":1978,"value":-0.6},{"id":"r","year":1979,"value":0.1},{"id":"r","year":1980,"value":-0.8},
{"id":"r","year":1981,"value":0.3},{"id":"r","year":1982,"value":-0.4},{"id":"r","year":1983,"value":0.9},{"id":"r","year":1984,"value":-1.0},{"id":"r","year":1985,"value":-0.3},{"id":"r","year":1986,"value":-0.6},{"id":"r","year":1987,"value":0.2},{"id":"r","year":1988,"value":0.8},{"id":"r","year":1989,"value":1.0},{"id":"r","year":1990,"value":0.5},
{"id":"r","year":1991,"value":0.8},{"id":"r","year":1992,"value":0.2},{"id":"r","year":1993,"value":0.6},{"id":"r","year":1994,"value":-0.4},{"id":"r","year":1995,"value":0.7},{"id":"r","year":1996,"value":0.4},{"id":"r","year":1997,"value":1.0},{"id":"r","year":1998,"value":0.6},{"id":"r","year":1999,"value":1.1},{"id":"r","year":2000,"value":0.8},
{"id":"r","year":2001,"value":1.2},{"id":"r","year":2002,"value":0.7},{"id":"r","year":2003,"value":1.3},{"id":"r","year":2004,"value":0.9},{"id":"r","year":2005,"value":1.1},{"id":"r","year":2006,"value":1.5},{"id":"r","year":2007,"value":1.9},{"id":"r","year":2008,"value":1.3},{"id":"r","year":2009,"value":1.1},{"id":"r","year":2010,"value":1.2},

{"id":"s","year":1961,"value":0.3},{"id":"s","year":1962,"value":1.7},{"id":"s","year":1963,"value":-1.4},{"id":"s","year":1964,"value":0.4},{"id":"s","year":1965,"value":-0.6},{"id":"s","year":1966,"value":0.5},{"id":"s","year":1967,"value":-0.2},{"id":"s","year":1968,"value":0.9},{"id":"s","year":1969,"value":-0.8},{"id":"s","year":1970,"value":0.2},
{"id":"s","year":1971,"value":0.6},{"id":"s","year":1972,"value":-0.5},{"id":"s","year":1973,"value":0.3},{"id":"s","year":1974,"value":-0.9},{"id":"s","year":1975,"value":0.1},{"id":"s","year":1976,"value":0.8},{"id":"s","year":1977,"value":-0.4},{"id":"s","year":1978,"value":0.3},{"id":"s","year":1979,"value":-1.2},{"id":"s","year":1980,"value":-0.2},
{"id":"s","year":1981,"value":0.4},{"id":"s","year":1982,"value":1.0},{"id":"s","year":1983,"value":-0.5},{"id":"s","year":1984,"value":0.2},{"id":"s","year":1985,"value":-0.7},{"id":"s","year":1986,"value":-0.3},{"id":"s","year":1987,"value":-0.6},{"id":"s","year":1988,"value":-0.4},{"id":"s","year":1989,"value":0.4},{"id":"s","year":1990,"value":1.1},
{"id":"s","year":1991,"value":0.6},{"id":"s","year":1992,"value":0.3},{"id":"s","year":1993,"value":0.9},{"id":"s","year":1994,"value":0.5},{"id":"s","year":1995,"value":1.0},{"id":"s","year":1996,"value":0.2},{"id":"s","year":1997,"value":0.8},{"id":"s","year":1998,"value":0.4},{"id":"s","year":1999,"value":1.2},{"id":"s","year":2000,"value":0.7},
{"id":"s","year":2001,"value":0.3},{"id":"s","year":2002,"value":1.0},{"id":"s","year":2003,"value":1.4},{"id":"s","year":2004,"value":0.5},{"id":"s","year":2005,"value":0.8},{"id":"s","year":2006,"value":0.4},{"id":"s","year":2007,"value":0.9},{"id":"s","year":2008,"value":0.6},{"id":"s","year":2009,"value":1.0},{"id":"s","year":2010,"value":0.8},

{"id":"t","year":1971,"value":-0.4},{"id":"t","year":1972,"value":-0.6},{"id":"t","year":1973,"value":-1.2},{"id":"t","year":1974,"value":0.5},{"id":"t","year":1975,"value":0.3},{"id":"t","year":1976,"value":0.4},{"id":"t","year":1977,"value":-0.5},{"id":"t","year":1978,"value":0.2},{"id":"t","year":1979,"value":-0.7},{"id":"t","year":1980,"value":-0.2},
{"id":"t","year":1981,"value":0.5},{"id":"t","year":1982,"value":0.3},{"id":"t","year":1983,"value":-0.3},{"id":"t","year":1984,"value":-0.6},{"id":"t","year":1985,"value":-0.2},{"id":"t","year":1986,"value":0.0},{"id":"t","year":1987,"value":1.0},{"id":"t","year":1988,"value":0.3},{"id":"t","year":1989,"value":-0.9},{"id":"t","year":1990,"value":1.2},
{"id":"t","year":1991,"value":0.6},{"id":"t","year":1992,"value":1.5},{"id":"t","year":1993,"value":0.9},{"id":"t","year":1994,"value":0.4},{"id":"t","year":1995,"value":1.2},{"id":"t","year":1996,"value":0.2},{"id":"t","year":1997,"value":1.6},{"id":"t","year":1998,"value":0.8},{"id":"t","year":1999,"value":1.7},{"id":"t","year":2000,"value":0.6},
{"id":"t","year":2001,"value":1.0},{"id":"t","year":2002,"value":0.4},{"id":"t","year":2003,"value":1.4},{"id":"t","year":2004,"value":0.8},{"id":"t","year":2005,"value":1.1},{"id":"t","year":2006,"value":0.3},{"id":"t","year":2007,"value":1.3},{"id":"t","year":2008,"value":-0.2},{"id":"t","year":2009,"value":0.9},{"id":"t","year":2010,"value":2.2}
]
},
"data": {"name": "main"},
"transform": [{"lookup": "id", "from": {"data": {"name": "lakes"}, "key": "id", "fields": ["lake"]}}],
"facet": {"field": "lake", "type": "nominal",
  "sort": ["Zeller See","Wallersee","Niedertrumer See","Wolfgangsee","Fuschlsee","Attersee","Millstätter See","Weissensee","Ossiacher See","Mondsee","Neusiedler See","Wörthersee","Charzykowskie","Hancza","Jeziorak","Lubie","Mikolajskie","Slawskie","Lake Zurich","Lake Geneva"],
  "header": {"title": null, "labelFont": "Liberation Sans", "labelFontSize": 12.5, "labelFontWeight": "bold", "labelColor": "black", "labelPadding": 3}},
"columns": 5,
"bounds": "flush",
"spacing": {"row": 36, "column": 25.5},
"resolve": {"axis": {"y": "independent"}},
"spec": {
  "width": 83, "height": 121,
  "layer": [
    {"transform": [{"filter": "!datum.kind"}],
     "mark": {"type": "line", "color": "#8a8a8a", "strokeWidth": 1},
     "encoding": {
       "x": {"field": "year", "type": "quantitative", "scale": {"domain": [1961, 2010], "nice": false, "zero": false}, "axis": {"title": null}},
       "y": {"field": "value", "type": "quantitative", "scale": {"domain": [-1.5, 2.5], "nice": false, "zero": false}, "axis": {"title": null}}
     }},
    {"transform": [{"filter": "datum.kind == 'step'"}],
     "mark": {"type": "line", "color": "black", "strokeWidth": 2},
     "encoding": {
       "x": {"field": "year", "type": "quantitative", "axis": {"title": null}},
       "y": {"field": "value", "type": "quantitative", "axis": {"title": null}},
       "order": {"field": "o", "type": "quantitative"}
     }},
    {"transform": [{"filter": "datum.kind == 'cp'"}],
     "mark": {"type": "rule", "color": "black", "strokeWidth": 2.5, "strokeDash": [14, 5]},
     "encoding": {"x": {"field": "year", "type": "quantitative", "axis": {"title": null}}}},
    {"transform": [{"filter": "datum.kind == 'seg'"}],
     "mark": {"type": "rule", "color": "black", "strokeWidth": 2.5},
     "encoding": {
       "x": {"field": "year", "type": "quantitative", "axis": {"title": null}},
       "y": {"field": "value", "type": "quantitative", "axis": {"title": null}},
       "y2": {"field": "value2"}
     }},
    {"transform": [{"filter": "datum.kind == 'dn'"}],
     "mark": {"type": "point", "shape": "triangle-down", "filled": true, "color": "black", "size": 75, "opacity": 1},
     "encoding": {
       "x": {"field": "year", "type": "quantitative", "axis": {"title": null}},
       "y": {"field": "value", "type": "quantitative", "axis": {"title": null}}
     }},
    {"transform": [{"filter": "datum.kind == 'up'"}],
     "mark": {"type": "point", "shape": "triangle-up", "filled": true, "fill": "white", "stroke": "black", "strokeWidth": 1.5, "size": 60, "opacity": 1},
     "encoding": {
       "x": {"field": "year", "type": "quantitative", "axis": {"title": null}},
       "y": {"field": "value", "type": "quantitative", "axis": {"title": null}}
     }},
    {"transform": [{"filter": "datum.kind == 'cp' && datum.label"}],
     "mark": {"type": "text", "align": "right", "baseline": "middle", "dx": -4, "font": "Liberation Sans", "fontSize": 12.5, "color": "black"},
     "encoding": {
       "x": {"field": "year", "type": "quantitative", "axis": {"title": null}},
       "y": {"datum": 1.5, "type": "quantitative", "axis": {"title": null}},
       "text": {"field": "label"}
     }},
    {"transform": [{"filter": "datum.kind == 'let'"}],
     "mark": {"type": "text", "align": "left", "baseline": "middle", "dx": 4, "dy": 10, "font": "Liberation Sans", "fontSize": 15, "fontWeight": "bold", "color": "black"},
     "encoding": {
       "x": {"datum": 1961, "type": "quantitative", "axis": {"title": null}},
       "y": {"datum": 2.5, "type": "quantitative", "axis": {"title": null}},
       "text": {"field": "id"}
     }}
  ]
},
"config": {
  "font": "Liberation Sans",
  "view": {"stroke": "black", "strokeWidth": 1},
  "axisX": {"values": [1980, 2010], "format": "d", "grid": false, "domain": false, "tickSize": -4, "tickColor": "black", "labelPadding": 6, "labelFlush": false, "labelFont": "Liberation Sans", "labelFontSize": 10.5, "labelColor": "#222"},
  "axisY": {"values": [-1, 0, 1, 2], "grid": false, "domain": false, "tickSize": -4, "tickColor": "black", "labelPadding": 7, "labelFont": "Liberation Sans", "labelFontSize": 10.5, "labelColor": "#222"}
}
}
